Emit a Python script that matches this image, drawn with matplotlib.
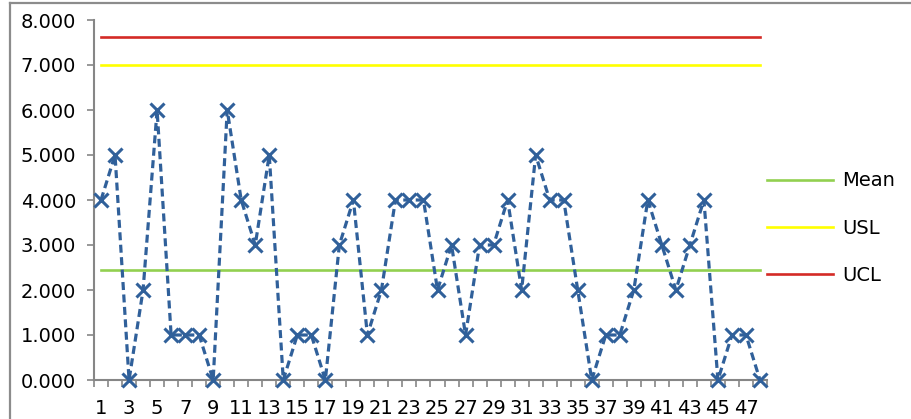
import matplotlib
matplotlib.use("Agg")
import matplotlib.pyplot as plt
from matplotlib.lines import Line2D

# sample number and range values
samples = list(range(1, 49))
ranges = [4, 5, 0, 2, 6, 1, 1, 1, 0, 6,
          4, 3, 5, 0, 1, 1, 0, 3, 4, 1,
          2, 4, 4, 4, 2, 3, 1, 3, 3, 4,
          2, 5, 4, 4, 2, 0, 1, 1, 2, 4,
          3, 2, 3, 4, 0, 1, 1, 0]
mean_val = 2.438
usl_val = 7.0
ucl_val = 7.62
y_ticks = [0, 1, 2, 3, 4, 5, 6, 7, 8]
x_labels = [str(s) for s in samples[::2]]

W, H = 912, 419
fig = plt.figure(figsize=(W / 100, H / 100), dpi=100)
ax = fig.add_axes([94 / W, 1 - 380 / H, (767 - 94) / W, 360 / H])

# title sits behind the plot area, only its very top shows
fig.text(0.505, 1 - 21 / H, "Range Control Chart", ha="center", va="top",
         fontsize=15, fontweight="bold", zorder=-2)

# frame line of the chart object (top and left visible)
fig.add_artist(Line2D([10 / W, 10 / W], [0, 1 - 3.5 / H], color="#8c8c8c", lw=1.6))
fig.add_artist(Line2D([10 / W, 1], [1 - 3.5 / H, 1 - 3.5 / H], color="#8c8c8c", lw=1.6))

ax.plot(samples, [mean_val] * len(samples), color="#92d050", lw=1.9, label="Mean")
ax.plot(samples, [usl_val] * len(samples), color="#ffff00", lw=1.9, label="USL")
ax.plot(samples, [ucl_val] * len(samples), color="#d42a26", lw=1.9, label="UCL")
ax.plot(samples, ranges, color="#30609a", lw=2.3, dashes=(2.5, 1.4),
        marker="x", markersize=10, mew=2.2, clip_on=False, zorder=5)

ax.set_xlim(0.5, 48.5)
ax.set_ylim(0, 8)
ax.set_yticks(y_ticks)
ax.set_yticklabels([f"{v:.3f}" for v in y_ticks])
ax.set_xticks(samples[::2])
ax.set_xticklabels(x_labels)
ax.set_xticks([s + 0.5 for s in range(0, 49)], minor=True)
ax.tick_params(axis="x", which="major", length=0, labelsize=14, pad=14)
ax.tick_params(axis="x", which="minor", length=5, color="#868686", width=1.2)
ax.tick_params(axis="y", length=5, color="#868686", width=1.2, labelsize=14, pad=8)

for side in ["top", "right"]:
    ax.spines[side].set_visible(False)
for side in ["left", "bottom"]:
    ax.spines[side].set_color("#868686")
    ax.spines[side].set_linewidth(1.5)

handles, labels = ax.get_legend_handles_labels()
fig.legend(handles[:3], labels[:3], loc="center left",
           bbox_to_anchor=(767 / W, 1 - 228 / H), frameon=False, fontsize=14,
           handlelength=3.4, handletextpad=0.45, labelspacing=1.45,
           borderpad=0, borderaxespad=0)

fig.savefig("out.png", dpi=100)
